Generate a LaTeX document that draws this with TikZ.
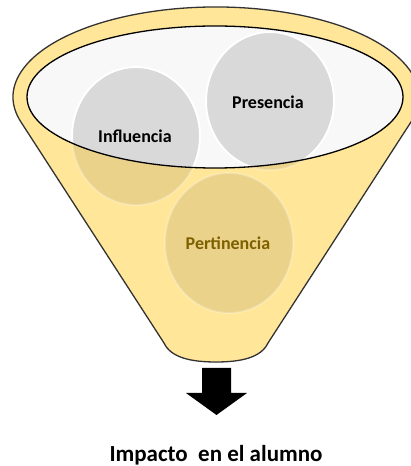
\documentclass[tikz,border=0pt]{standalone}
\usepackage{fontspec}
\setmainfont{Carlito}
\usepackage{tikz}
\definecolor{funnelyellow}{HTML}{FFE699}
\definecolor{balldark}{HTML}{EAD28A}
\definecolor{ballgray}{HTML}{D9D9D9}
\definecolor{mouthwhite}{HTML}{F8F8F8}
\definecolor{olivetext}{HTML}{7F6000}

\begin{document}
\begin{tikzpicture}[x=1pt, y=1pt,
    rim/.style={draw=black!80, line width=1.3pt},
    ballname/.style={font=\bfseries\fontsize{18}{20}\selectfont}]
  \useasboundingbox (0,0) rectangle (411,466);
  % funnel body
  \filldraw[fill=funnelyellow, rim] (411.1,344.2) arc[start angle=-16, end angle=196, x radius=203, y radius=90]
    -- (164,123) .. controls (171,108) and (192,104) .. (216,104) .. controls (240,104) and (261,108) .. (268,123) -- cycle;
  \foreach \cx/\cy/\ry in {136/330/69, 270/365/69, 229/223/70}
    \filldraw[fill=balldark, draw=white, draw opacity=0.25, line width=2pt] (\cx,\cy) ellipse [x radius=64, y radius=\ry];
  % mouth of the funnel
  \begin{scope}
    \clip (215,369) ellipse [x radius=188, y radius=71];
    \fill[mouthwhite] (215,369) ellipse [x radius=188, y radius=71];
    \foreach \cx/\cy/\ry in {136/330/69, 270/365/69}
      \filldraw[fill=ballgray, draw=white, line width=2pt] (\cx,\cy) ellipse [x radius=64, y radius=\ry];
  \end{scope}
  \draw[rim, draw=black] (215,369) ellipse [x radius=188, y radius=71];
  \node[ballname] (influencia) at (135,330) {Influencia};
  \node[ballname] (presencia) at (268,364) {Presencia};
  \node[ballname, text=olivetext] (pertinencia) at (228,223) {Pertinencia};
  % arrow
  \fill (202,98) -- (231,98) -- (231,73) -- (247,73) -- (216.5,51) -- (186,73) -- (202,73) -- cycle;
  \node[anchor=base, font=\bfseries\fontsize{23}{25}\selectfont] (impacto) at (216,5) {Impacto\ \ en el alumno};
\end{tikzpicture}
\end{document}
